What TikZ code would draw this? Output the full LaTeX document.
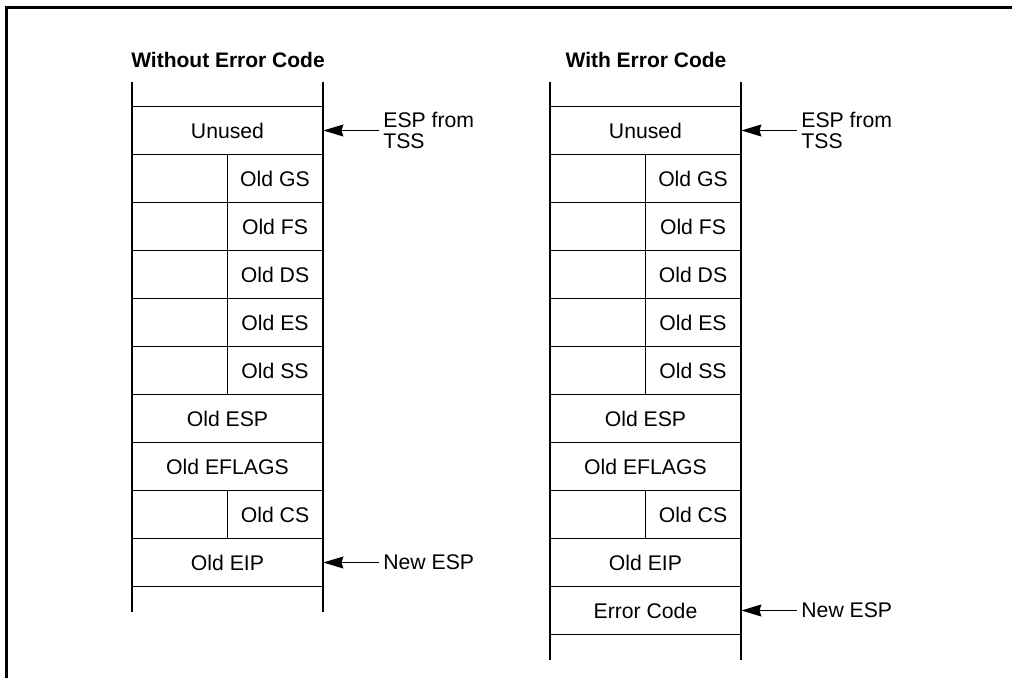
\documentclass[tikz,border=0pt]{standalone}
\usepackage{fontspec}
\setmainfont{Liberation Sans}
\usetikzlibrary{arrows.meta}

\tikzset{
  frame/.style={line width=1.4pt},
  wall/.style={line width=1pt},
  slot/.style={line width=0.7pt},
  split/.style={line width=0.5pt},
  cell/.style={inner sep=0pt, minimum width=95.5pt, minimum height=24pt,
    font=\fontsize{10.6}{12}\selectfont},
  half/.style={cell, minimum width=48pt},
  title/.style={anchor=base, inner sep=0pt, font=\fontsize{10.5}{12}\selectfont\bfseries},
  note/.style={anchor=west, inner sep=0pt, align=left,
    font=\fontsize{10.6}{10.5}\selectfont},
  ptr/.style={line width=0.6pt, shorten <=2pt,
    -{Stealth[length=10pt, width=6pt, inset=1pt]}}
}

\begin{document}
\begin{tikzpicture}[x=0.5pt, y=-0.5pt]
  \useasboundingbox (0,0) rectangle (1012,678);
  % outer frame, cut off at right and bottom
  \draw[frame] (6.5,678) -- (6.5,7.5) -- (1012,7.5);

  \node[title] (titleL) at (228,68) {Without Error Code};
  \node[title] (titleR) at (646,68) {With Error Code};

  % both stacks, the right one has one slot more
  \foreach \s/\dx/\last in {L/0/10, R/418/11} {
    \begin{scope}[shift={(\dx,0)}]
      \draw[wall] (132,82) -- (132,{131.5+48*\last})
                  (323,82) -- (323,{131.5+48*\last});
      \foreach \i in {0,...,\last}
        \draw[slot] (132,106.5+48*\i) -- (323,106.5+48*\i);
      \draw[split] (227,154.5) -- (227,394.5)
                   (227,490.5) -- (227,538.5);
      \foreach \i/\txt in {0/Unused, 6/Old ESP, 7/Old EFLAGS, 9/Old EIP}
        \node[cell] (\s\i) at (227.5,130.5+48*\i) {\txt};
      \foreach \i/\txt in {1/Old GS, 2/Old FS, 3/Old DS, 4/Old ES, 5/Old SS, 8/Old CS}
        \node[half] (\s\i) at (275,130.5+48*\i) {\txt};
    \end{scope}
  }
  \node[cell] (R10) at (645.5,610.5) {Error Code};

  % stack pointers
  \node[note] (tssL) at (383,130.5) {ESP from\\TSS};
  \node[note] (tssR) at (801,130.5) {ESP from\\TSS};
  \node[note] (newL) at (383,562.5) {New ESP};
  \node[note] (newR) at (801,610.5) {New ESP};
  \draw[ptr] (tssL.west) -- (L0.east);
  \draw[ptr] (tssR.west) -- (R0.east);
  \draw[ptr] (newL.west) -- (L9.east);
  \draw[ptr] (newR.west) -- (R10.east);
\end{tikzpicture}
\end{document}
